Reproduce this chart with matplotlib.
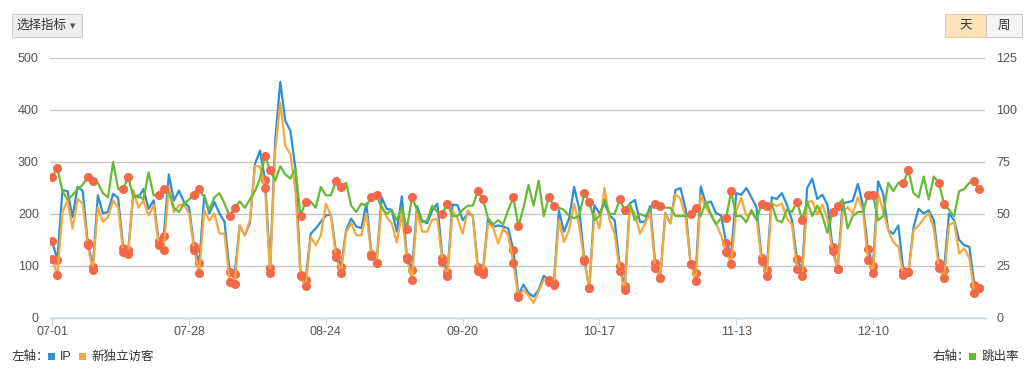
import matplotlib
matplotlib.use("Agg")
import matplotlib.pyplot as plt
from matplotlib.patches import Rectangle
import pandas as pd

plt.rcParams['font.family'] = ['Liberation Sans', 'Noto Sans CJK SC', 'DejaVu Sans']

# daily series 2017-07-01 .. 2017-12-31
start_date = "2017-07-01"
end_date = "2017-12-31"

ip = [148, 111, 246, 244, 194, 252, 245, 145, 99, 236,
      201, 204, 239, 231, 134, 131, 239, 232, 248, 210,
      226, 148, 158, 276, 226, 245, 223, 213, 138, 105,
      236, 201, 223, 201, 185, 89, 85, 178, 159, 182,
      296, 322, 266, 96, 340, 454, 379, 360, 287, 83,
      73, 162, 172, 185, 197, 199, 127, 99, 169, 191,
      176, 173, 220, 123, 106, 232, 210, 208, 166, 234,
      118, 92, 215, 187, 182, 207, 220, 115, 89, 218,
      217, 188, 201, 197, 99, 92, 191, 175, 178, 176,
      172, 131, 45, 64, 48, 41, 54, 81, 73, 67,
      207, 166, 191, 252, 210, 113, 57, 217, 201, 221,
      197, 188, 100, 61, 220, 227, 185, 185, 215, 106,
      76, 202, 182, 246, 250, 210, 104, 87, 253, 220,
      224, 202, 197, 145, 123, 240, 237, 250, 232, 213,
      115, 92, 232, 229, 240, 218, 188, 113, 92, 250,
      268, 229, 237, 218, 137, 94, 220, 223, 225, 258,
      217, 132, 100, 263, 239, 169, 162, 178, 90, 89,
      175, 210, 201, 207, 188, 106, 92, 201, 188, 150,
      140, 137, 64, 57]

new_visitors = [113, 82, 204, 226, 172, 229, 220, 140, 92, 213,
                185, 194, 226, 213, 127, 124, 246, 212, 226, 197,
                217, 141, 131, 252, 204, 217, 218, 201, 131, 86,
                208, 187, 201, 162, 162, 70, 66, 178, 159, 188,
                293, 291, 250, 87, 322, 414, 331, 315, 245, 80,
                61, 156, 140, 159, 220, 197, 118, 87, 166, 182,
                159, 159, 201, 119, 105, 217, 194, 182, 145, 201,
                113, 73, 204, 166, 166, 189, 191, 108, 81, 207,
                191, 162, 207, 197, 91, 85, 182, 175, 143, 172,
                159, 106, 41, 54, 43, 29, 51, 73, 70, 64,
                188, 146, 169, 220, 178, 110, 57, 201, 172, 250,
                188, 162, 91, 54, 217, 201, 162, 182, 201, 97,
                76, 201, 182, 238, 229, 194, 104, 71, 236, 213,
                197, 182, 159, 127, 104, 207, 231, 197, 201, 194,
                110, 80, 221, 215, 220, 191, 180, 94, 81, 223,
                225, 199, 218, 191, 129, 94, 204, 213, 201, 232,
                208, 111, 87, 239, 207, 169, 146, 137, 83, 89,
                169, 178, 191, 202, 172, 96, 76, 178, 185, 124,
                134, 115, 49, 57]

bounce_rate = [68, 72, 61, 57, 59, 62, 64, 68, 66, 65,
               60, 58, 75, 62, 62, 68, 58, 59, 57, 70,
               59, 59, 62, 61, 53, 51, 55, 57, 59, 62,
               58, 52, 58, 60, 55, 49, 53, 56, 53, 57,
               61, 67, 78, 71, 66, 73, 69, 67, 72, 49,
               56, 56, 53, 63, 59, 59, 66, 63, 65, 54,
               51, 55, 54, 58, 59, 53, 50, 52, 47, 53,
               43, 58, 52, 46, 47, 54, 51, 50, 55, 49,
               49, 52, 54, 54, 61, 57, 48, 45, 47, 45,
               52, 58, 44, 53, 64, 54, 66, 49, 58, 54,
               53, 52, 49, 48, 49, 60, 56, 47, 49, 57,
               50, 50, 57, 52, 55, 47, 50, 49, 52, 55,
               54, 53, 53, 49, 49, 49, 50, 53, 49, 56,
               50, 45, 48, 48, 61, 49, 49, 46, 52, 47,
               55, 54, 55, 47, 46, 52, 51, 56, 47, 56,
               49, 54, 49, 41, 51, 54, 57, 43, 49, 51,
               51, 59, 59, 47, 49, 65, 61, 65, 65, 71,
               60, 58, 68, 57, 68, 65, 55, 52, 49, 61,
               62, 65, 66, 62]

tick_labels = ["07-01", "07-28", "08-24", "09-20", "10-17", "11-13", "12-10"]
left_ticks = [0, 100, 200, 300, 400, 500]
right_ticks = [0, 25, 50, 75, 100, 125]

BLUE = "#2f8ed8"
ORANGE = "#f5a83c"
GREEN = "#66bb33"
DOT = "#f2694a"
GRID = "#c4c4c4"
AXIS = "#c5d6e8"
TXT = "#555555"

dates = pd.date_range(start_date, end_date, freq="D")
days = list(range(len(dates)))
weekend = [i for i, d in enumerate(dates) if d.dayofweek >= 5]

W, H = 1024, 374
fig = plt.figure(figsize=(W / 100, H / 100), dpi=100)
ax = fig.add_axes([50 / W, 1 - 318 / H, 935 / W, 260 / H])
ax2 = ax.twinx()

dot_style = dict(marker="o", markevery=weekend, markersize=5.5,
                 markerfacecolor=DOT, markeredgecolor=DOT)
ax.plot(days, ip, color=BLUE, lw=1.6, zorder=3, **dot_style)
ax.plot(days, new_visitors, color=ORANGE, lw=1.6, zorder=4, **dot_style)
ax2.plot(days, bounce_rate, color=GREEN, lw=1.6, zorder=3, **dot_style)

ax.set_xlim(-0.45, 184.1)
ax.set_ylim(0, 500)
ax2.set_ylim(0, 125)
ax.set_yticks(left_ticks)
ax2.set_yticks(right_ticks)

tick_pos = [dates.get_loc(pd.Timestamp("2017-" + t)) for t in tick_labels]
ax.set_xticks(tick_pos)
ax.set_xticklabels(tick_labels)

ax.grid(axis="y", color=GRID, lw=0.9)
ax.set_axisbelow(True)
for a in (ax, ax2):
    for s in ("top", "left", "right"):
        a.spines[s].set_visible(False)
    a.spines["bottom"].set_color(AXIS)
    a.spines["bottom"].set_linewidth(1.0)
ax.tick_params(axis="y", length=0, pad=8, labelsize=9, labelcolor=TXT)
ax2.tick_params(axis="y", length=0, pad=8, labelsize=9, labelcolor=TXT)
ax.tick_params(axis="x", length=5, color=AXIS, pad=1, labelsize=9, labelcolor=TXT)


def px_rect(x0, y0, x1, y1, **kw):
    fig.add_artist(Rectangle((x0 / W, 1 - y1 / H), (x1 - x0) / W, (y1 - y0) / H,
                             transform=fig.transFigure, **kw))


# top-left selector button
px_rect(12, 14, 82, 37, facecolor="#eeeeee", edgecolor="#cccccc", lw=0.8)
fig.text(16 / W, 1 - 26 / H, "选择指标", fontsize=9, color="#333333", va="center")
fig.text(73 / W, 1 - 26.5 / H, "▼", fontsize=5, color="#555555", va="center",
         ha="center", family="DejaVu Sans")

# day / week toggle
px_rect(945, 14, 986, 37, facecolor="#fee3b9", edgecolor="#e6cfa8", lw=0.8)
px_rect(986, 14, 1022, 37, facecolor="#f3f3f3", edgecolor="#c8c8c8", lw=0.8)
fig.text(965.5 / W, 1 - 26 / H, "天", fontsize=9, color="#333333", va="center", ha="center")
fig.text(1004 / W, 1 - 26 / H, "周", fontsize=9, color="#333333", va="center", ha="center")

# legends
fig.text(12 / W, 1 - 357 / H, "左轴：", fontsize=9, color="#333333", va="center")
px_rect(48, 353, 55, 360, facecolor=BLUE, edgecolor="none")
fig.text(60 / W, 1 - 357 / H, "IP", fontsize=9, color="#333333", va="center")
px_rect(79, 353, 86, 360, facecolor=ORANGE, edgecolor="none")
fig.text(91 / W, 1 - 357 / H, "新独立访客", fontsize=9, color="#333333", va="center")

fig.text(933 / W, 1 - 357 / H, "右轴：", fontsize=9, color="#333333", va="center")
px_rect(969, 353, 976, 360, facecolor=GREEN, edgecolor="none")
fig.text(982 / W, 1 - 357 / H, "跳出率", fontsize=9, color="#333333", va="center")

fig.savefig("out.png", dpi=100)
